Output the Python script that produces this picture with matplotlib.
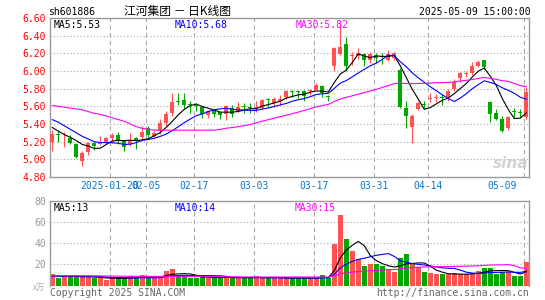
import matplotlib
matplotlib.use("Agg")
import matplotlib.pyplot as plt
import matplotlib.transforms as mtransforms
import numpy as np

# ---------------- data ----------------
opens = [5.20, 5.29, 5.27, 5.24, 5.17, 4.98, 5.08, 5.19, 5.17, 5.19,
         5.24, 5.28, 5.21, 5.17, 5.24, 5.25, 5.36, 5.26, 5.32, 5.41,
         5.53, 5.66, 5.67, 5.63, 5.61, 5.59, 5.50, 5.55, 5.54, 5.51,
         5.58, 5.55, 5.60, 5.59, 5.57, 5.58, 5.68, 5.64, 5.66, 5.71,
         5.77, 5.77, 5.77, 5.77, 5.79, 5.83, 5.72, 6.06, 6.19, 6.31,
         6.17, 6.17, 6.19, 6.13, 6.18, 6.17, 6.13, 6.15, 6.01, 5.58,
         5.37, 5.57, 5.63, 5.68, 5.69, 5.70, 5.70, 5.80, 5.92, 5.97,
         5.98, 6.06, 6.12, 5.65, 5.53, 5.46, 5.35, 5.55, 5.54, 5.48]
highs = [5.33, 5.32, 5.31, 5.27, 5.18, 5.10, 5.20, 5.21, 5.26, 5.25,
         5.30, 5.31, 5.22, 5.30, 5.25, 5.38, 5.38, 5.32, 5.46, 5.55,
         5.75, 5.75, 5.75, 5.66, 5.64, 5.60, 5.56, 5.57, 5.55, 5.62,
         5.62, 5.65, 5.64, 5.64, 5.66, 5.68, 5.69, 5.70, 5.73, 5.79,
         5.79, 5.79, 5.79, 5.80, 5.86, 5.84, 5.73, 6.27, 6.54, 6.38,
         6.22, 6.26, 6.20, 6.21, 6.20, 6.20, 6.24, 6.22, 6.03, 5.66,
         5.51, 5.66, 5.66, 5.75, 5.74, 5.74, 5.80, 5.91, 5.99, 6.00,
         6.10, 6.12, 6.13, 5.66, 5.57, 5.49, 5.49, 5.58, 5.57, 5.82]
lows = [5.10, 5.20, 5.14, 5.17, 5.01, 4.93, 5.05, 5.11, 5.16, 5.17,
        5.19, 5.17, 5.10, 5.15, 5.12, 5.22, 5.25, 5.25, 5.29, 5.38,
        5.49, 5.61, 5.57, 5.53, 5.55, 5.47, 5.47, 5.48, 5.46, 5.45,
        5.48, 5.54, 5.52, 5.52, 5.54, 5.57, 5.59, 5.59, 5.62, 5.68,
        5.70, 5.69, 5.66, 5.73, 5.78, 5.71, 5.66, 6.00, 6.18, 6.00,
        6.07, 6.14, 6.06, 6.09, 6.09, 6.08, 6.11, 6.13, 5.58, 5.36,
        5.18, 5.56, 5.58, 5.65, 5.65, 5.62, 5.66, 5.77, 5.87, 5.93,
        5.95, 6.05, 6.02, 5.42, 5.45, 5.31, 5.33, 5.48, 5.48, 5.46]
closes = [5.29, 5.27, 5.28, 5.19, 5.03, 5.07, 5.18, 5.15, 5.20, 5.24,
          5.27, 5.21, 5.14, 5.22, 5.22, 5.31, 5.28, 5.30, 5.41, 5.51,
          5.65, 5.65, 5.61, 5.62, 5.60, 5.51, 5.55, 5.51, 5.50, 5.60,
          5.51, 5.59, 5.59, 5.58, 5.59, 5.67, 5.67, 5.68, 5.68, 5.77,
          5.76, 5.76, 5.72, 5.79, 5.84, 5.75, 5.71, 6.26, 6.27, 6.06,
          6.18, 6.20, 6.13, 6.19, 6.15, 6.16, 6.19, 6.20, 5.59, 5.49,
          5.49, 5.64, 5.62, 5.69, 5.70, 5.69, 5.77, 5.87, 5.98, 5.98,
          6.06, 6.10, 6.05, 5.51, 5.46, 5.32, 5.48, 5.54, 5.53, 5.76]
volumes = [11.1, 7.3, 8.6, 8.6, 8.6, 7.9, 7.9, 7.3, 7.3, 5.4,
           7.0, 7.0, 7.0, 8.6, 6.7, 10.1, 7.0, 7.3, 9.2, 14.0,
           15.9, 8.6, 8.6, 7.6, 7.6, 8.6, 7.0, 7.0, 7.0, 9.2,
           7.0, 7.0, 7.0, 7.0, 9.2, 7.0, 7.0, 7.0, 7.0, 7.0,
           7.0, 7.0, 7.0, 7.0, 7.0, 10.1, 7.0, 39.6, 67.2, 44.4,
           33.0, 25.4, 18.7, 20.6, 20.6, 18.7, 15.0, 13.0, 26.3, 30.1,
           20.0, 18.0, 12.5, 11.5, 11.0, 10.5, 10.5, 11.5, 10.5, 10.5,
           12.0, 13.5, 17.0, 17.0, 11.0, 12.5, 13.0, 9.0, 9.0, 22.0]

# moving-average values before enough history is in the window
ma5_head = [5.36, 5.32, 5.28, 5.25]
ma10_head = [5.45, 5.42, 5.38, 5.34, 5.30, 5.26, 5.23, 5.20, 5.19]
ma30_head = [5.61, 5.60, 5.59, 5.58, 5.57, 5.56, 5.54, 5.52, 5.51, 5.49,
             5.47, 5.45, 5.43, 5.40, 5.37, 5.35, 5.34, 5.33, 5.33, 5.33,
             5.33, 5.33, 5.33, 5.33, 5.33, 5.33, 5.33, 5.33, 5.34]
vma5_head = [9.0, 8.8, 8.6, 8.8]
vma10_head = [9.2, 9.1, 9.0, 8.9, 8.9, 8.8, 8.7, 8.6, 8.5]
vma30_head = [9.3, 9.3, 9.3, 9.2, 9.2, 9.2, 9.2, 9.1, 9.1, 9.0,
              8.9, 8.9, 8.8, 8.8, 8.7, 8.7, 8.7, 8.7, 8.7, 8.7,
              8.7, 8.7, 8.7, 8.7, 8.7, 8.7, 8.7, 8.7, 8.7]

date_ticks = [10, 16, 24, 34, 44, 54, 63, 79]
date_labels = ["2025-01-20", "02-05", "02-17", "03-03", "03-17", "03-31", "04-14", "05-09"]
price_ticks = [4.80, 5.00, 5.20, 5.40, 5.60, 5.80, 6.00, 6.20, 6.40, 6.60]
vol_ticks = [20, 40, 60, 80]
ma_labels = ["MA5:5.53", "MA10:5.68", "MA30:5.82"]
vol_ma_labels = ["MA5:13", "MA10:14", "MA30:15"]
code_label = "sh601886"
title_label = "江河集团 － 日K线图"
time_label = "2025-05-09 15:00:00"


def moving_average(vals, n, head):
    out = list(head)
    for i in range(len(head), len(vals)):
        out.append(float(np.mean(vals[i - n + 1:i + 1])))
    return np.array(out)


RED = "#ff5353"
GREEN = "#00a800"
MA_COLORS = ["#000000", "#0000ff", "#ff00ff"]
GRID = "#a8a8a8"
FRAME = "#9a9a9a"
MONO = "DejaVu Sans Mono"
CJK = ["Noto Sans CJK SC", "DejaVu Sans"]

W, H = 545, 300
fig = plt.figure(figsize=(W / 100, H / 100), dpi=100)
fig.patch.set_facecolor("white")

x = np.arange(len(closes))
xlim = (-0.38, 79.45)
grid_off = -0.38

# ---------------- main price panel ----------------
ax = fig.add_axes([50 / W, 1 - 177 / H, 479 / W, 159 / H])
ax.set_xlim(*xlim)
ax.set_ylim(4.80, 6.60)

for yv in price_ticks[1:-1]:
    ax.axhline(yv, color=GRID, lw=0.8, ls=(0, (1, 2)), zorder=0)
for xv in date_ticks:
    ax.axvline(xv + grid_off, color=GRID, lw=0.8, ls=(0, (4, 3)), zorder=0)

for i in range(len(closes)):
    o, h, l, c = opens[i], highs[i], lows[i], closes[i]
    col = RED if c > o else GREEN
    ax.vlines(x[i], l, h, color=col, lw=0.8, zorder=2)
    ax.bar(x[i], max(abs(c - o), 0.009), bottom=min(o, c), width=0.68,
           color=col, edgecolor="none", zorder=3)

for n, head, colr in zip([5, 10, 30], [ma5_head, ma10_head, ma30_head], MA_COLORS):
    ax.plot(x, moving_average(closes, n, head), color=colr, lw=0.8, zorder=4)

ax.set_yticks(price_ticks)
ax.set_yticklabels([f"{t:.2f}" for t in price_ticks], color="#ff0000",
                   fontfamily=MONO, fontsize=7)
ax.tick_params(axis="y", length=0, pad=3)
ax.set_xticks([])
for s in ax.spines.values():
    s.set_color(FRAME)
    s.set_linewidth(1)

trans = mtransforms.blended_transform_factory(ax.transData, ax.transAxes)
for k, (pos, lab) in enumerate(zip(date_ticks, date_labels)):
    if k == len(date_ticks) - 1:
        ax.text(pos - 1.6, -0.057, lab, transform=trans, ha="right", va="center",
                color="#0a78c8", fontfamily=MONO, fontsize=7)
    else:
        ax.text(pos + grid_off, -0.057, lab, transform=trans, ha="center", va="center",
                color="#0a78c8", fontfamily=MONO, fontsize=7)

for lab, px, colr in zip(ma_labels, [54, 175, 296], MA_COLORS):
    fig.text(px / W, 1 - 24.5 / H, lab, color=colr, fontfamily=MONO, fontsize=7,
             ha="left", va="center")

# ---------------- volume panel ----------------
axv = fig.add_axes([50 / W, 1 - 285.5 / H, 479 / W, 84.2 / H])
axv.set_xlim(*xlim)
axv.set_ylim(0, 80)
for yv in vol_ticks[:-1]:
    axv.axhline(yv, color=GRID, lw=0.8, ls=(0, (1, 2)), zorder=0)
for xv in date_ticks:
    axv.axvline(xv + grid_off, color=GRID, lw=0.8, ls=(0, (4, 3)), zorder=0)

vcols = [RED if closes[i] > opens[i] else GREEN for i in range(len(closes))]
axv.bar(x, volumes, width=0.75, color=vcols, edgecolor="none", zorder=2)
for n, head, colr in zip([5, 10, 30], [vma5_head, vma10_head, vma30_head], MA_COLORS):
    axv.plot(x, moving_average(volumes, n, head), color=colr, lw=0.8, zorder=4)

axv.set_yticks(vol_ticks)
axv.set_yticklabels([str(t) for t in vol_ticks], color="#999999",
                    fontfamily=MONO, fontsize=7)
axv.tick_params(axis="y", length=0, pad=3)
axv.set_xticks([])
for s in axv.spines.values():
    s.set_color(FRAME)
    s.set_linewidth(1)
axv.spines["bottom"].set_visible(False)

for lab, px, colr in zip(vol_ma_labels, [54, 175, 295], MA_COLORS):
    fig.text(px / W, 1 - 208 / H, lab, color=colr, fontfamily=MONO, fontsize=7,
             ha="left", va="center")

# ---------------- header / footer text ----------------
fig.text(48 / W, 1 - 12 / H, code_label, color="#000000", fontfamily=MONO,
         fontsize=7, ha="left", va="center")
fig.text(178 / W, 1 - 11.5 / H, title_label, color="#000000", family=CJK,
         fontsize=8.5, ha="center", va="center")
fig.text(531 / W, 1 - 12 / H, time_label, color="#000000", fontfamily=MONO,
         fontsize=7, ha="right", va="center")
fig.text(45 / W, 1 - 287 / H, "x万", color="#aaaaaa", family=CJK,
         fontsize=6, ha="right", va="center")
fig.text(50 / W, 1 - 293 / H, "Copyright 2025 SINA.COM", color="#666666",
         fontfamily=MONO, fontsize=7, ha="left", va="center")
fig.text(529 / W, 1 - 293 / H, "http://finance.sina.com.cn", color="#666666",
         fontfamily=MONO, fontsize=7, ha="right", va="center")
fig.text(511 / W, 1 - 163 / H, "sina", color="#c8c8c8", fontsize=11,
         style="italic", weight="bold", ha="center", va="center", alpha=0.8)

fig.savefig("out.png", dpi=100, facecolor="white")
